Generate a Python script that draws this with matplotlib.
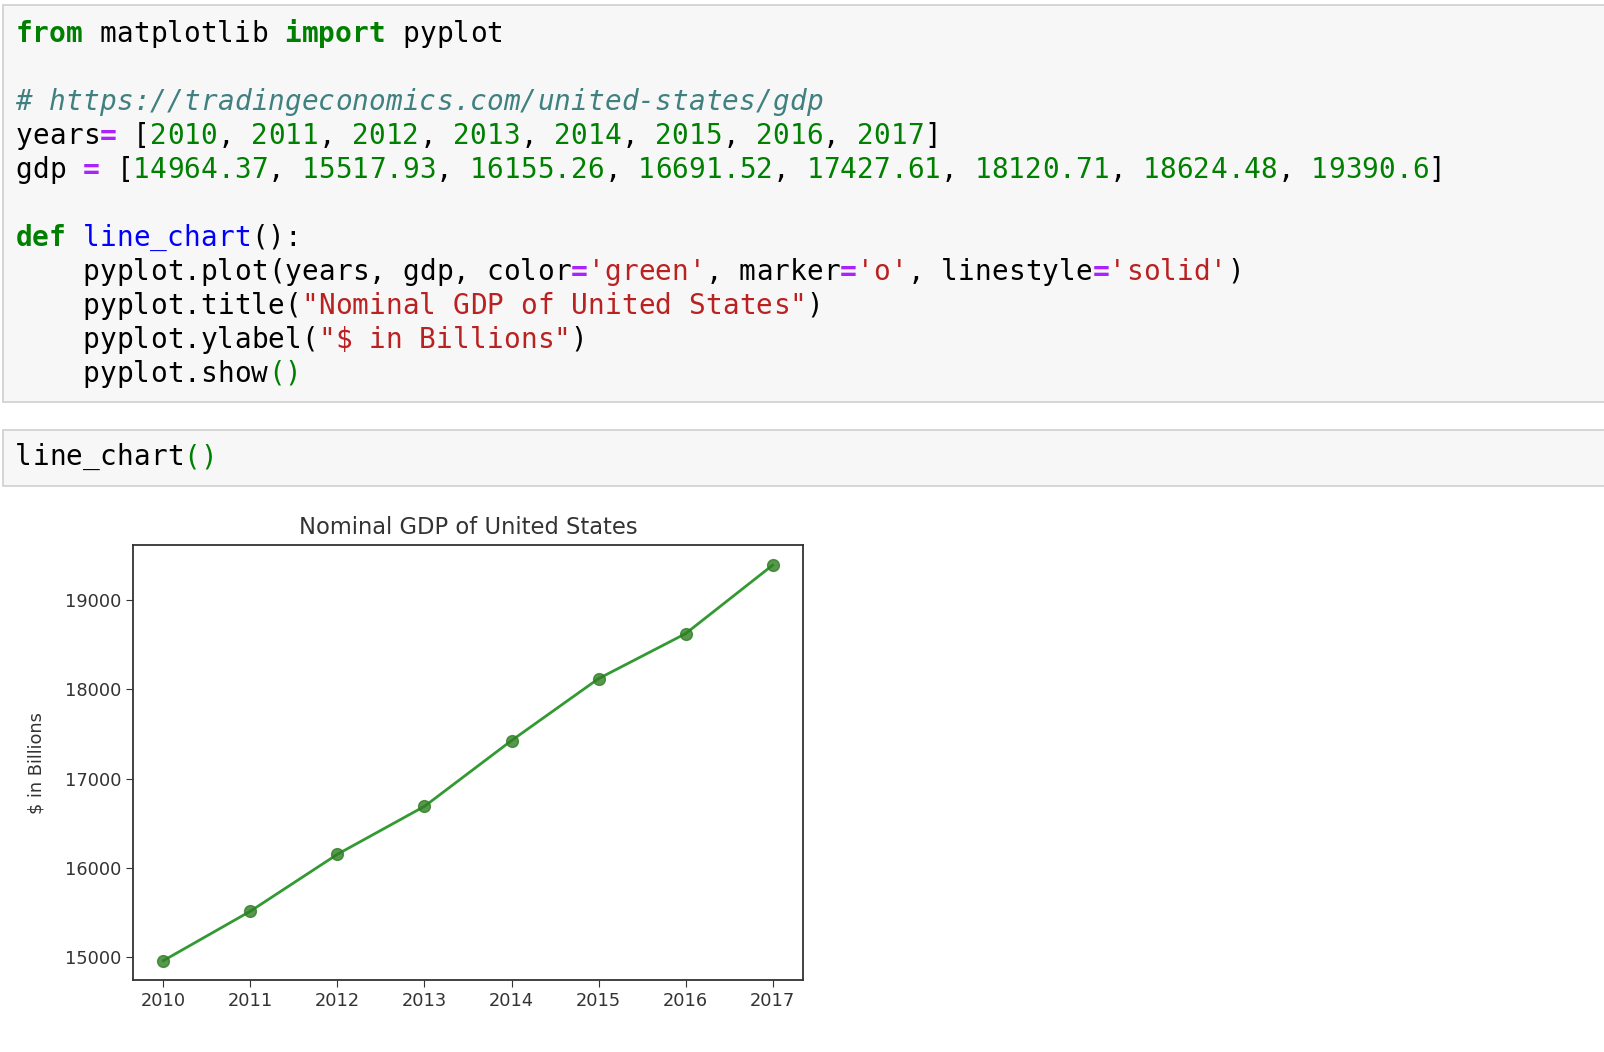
import matplotlib
matplotlib.use("Agg")
import matplotlib.pyplot as plt
from matplotlib.patches import Rectangle

years = [2010, 2011, 2012, 2013, 2014, 2015, 2016, 2017]
gdp = [14964.37, 15517.93, 16155.26, 16691.52, 17427.61, 18120.71, 18624.48, 19390.6]

KW = "#008000"
NUM = "#008000"
STR = "#BA2121"
OP = "#AA22FF"
COM = "#408080"
FN = "#0000FF"
TXT = "#000000"

# (text, colour, bold, italic) tokens per code line
cell1 = [
    [("from", KW, 1, 0), (" matplotlib ", TXT, 0, 0), ("import", KW, 1, 0), (" pyplot", TXT, 0, 0)],
    [],
    [("# https://tradingeconomics.com/united-states/gdp", COM, 0, 1)],
    [("years", TXT, 0, 0), ("=", OP, 1, 0), (" [", TXT, 0, 0)] + sum(
        [[(str(y), NUM, 0, 0), (", " if i < len(years) - 1 else "", TXT, 0, 0)] for i, y in enumerate(years)], [])
    + [("]", TXT, 0, 0)],
    [("gdp ", TXT, 0, 0), ("=", OP, 1, 0), (" [", TXT, 0, 0)] + sum(
        [[(str(g), NUM, 0, 0), (", " if i < len(gdp) - 1 else "", TXT, 0, 0)] for i, g in enumerate(gdp)], [])
    + [("]", TXT, 0, 0)],
    [],
    [("def", KW, 1, 0), (" ", TXT, 0, 0), ("line_chart", FN, 0, 0), ("():", TXT, 0, 0)],
    [("    pyplot.plot(years, gdp, color", TXT, 0, 0), ("=", OP, 1, 0), ("'green'", STR, 0, 0),
     (", marker", TXT, 0, 0), ("=", OP, 1, 0), ("'o'", STR, 0, 0), (", linestyle", TXT, 0, 0),
     ("=", OP, 1, 0), ("'solid'", STR, 0, 0), (")", TXT, 0, 0)],
    [("    pyplot.title(", TXT, 0, 0), ('"Nominal GDP of United States"', STR, 0, 0), (")", TXT, 0, 0)],
    [("    pyplot.ylabel(", TXT, 0, 0), ('"$ in Billions"', STR, 0, 0), (")", TXT, 0, 0)],
    [("    pyplot.show", TXT, 0, 0), ("()", KW, 0, 0)],
]
cell2 = [[("line_chart", TXT, 0, 0), ("()", KW, 0, 0)]]

W, H = 1568, 1028   # coordinate frame as measured on the reference

fig = plt.figure(figsize=(16.04, 10.52), dpi=100)
bg = fig.add_axes([0, 0, 1, 1])
bg.set_xlim(0, W)
bg.set_ylim(H, 0)
bg.axis("off")

bg.add_patch(Rectangle((3, 5), 1620, 388, facecolor="#f7f7f7", edgecolor="#cfcfcf", lw=1.2))
bg.add_patch(Rectangle((3, 420), 1620, 55, facecolor="#f7f7f7", edgecolor="#cfcfcf", lw=1.2))

CW = 16.45
FS = 20.0


def draw_lines(lines, x0, y0, dy):
    for li, toks in enumerate(lines):
        col = 0
        for text, c, b, it in toks:
            for k, ch in enumerate(text):
                if ch != " ":
                    bg.text(x0 + (col + k) * CW, y0 + li * dy, ch, color=c, fontsize=FS,
                            family="DejaVu Sans Mono", weight="bold" if b else "normal",
                            style="italic" if it else "normal", va="center", ha="left",
                            parse_math=False)
            col += len(text)


draw_lines(cell1, 15, 33, 33.2)
draw_lines(cell2, 15, 447, 33.2)

# chart
ax = fig.add_axes([130 / W, 1 - 958 / H, 655 / W, 425 / H])
ax.plot(years, gdp, color="green", marker="o", linestyle="solid", lw=2, ms=8.5, alpha=0.8,
        markerfacecolor="#2e7d22", markeredgecolor="#2e7d22")
ax.set_title("Nominal GDP of United States", fontsize=16.3, color="#333333", pad=8)
ax.set_ylabel("\\$ in Billions", fontsize=12.8, color="#333333", labelpad=14)
ax.set_yticks([15000, 16000, 17000, 18000, 19000])
ax.tick_params(labelsize=12.8, colors="#333333", length=5)
for s in ax.spines.values():
    s.set_color("#333333")
    s.set_linewidth(1.3)

fig.savefig("out.png", dpi=100)
